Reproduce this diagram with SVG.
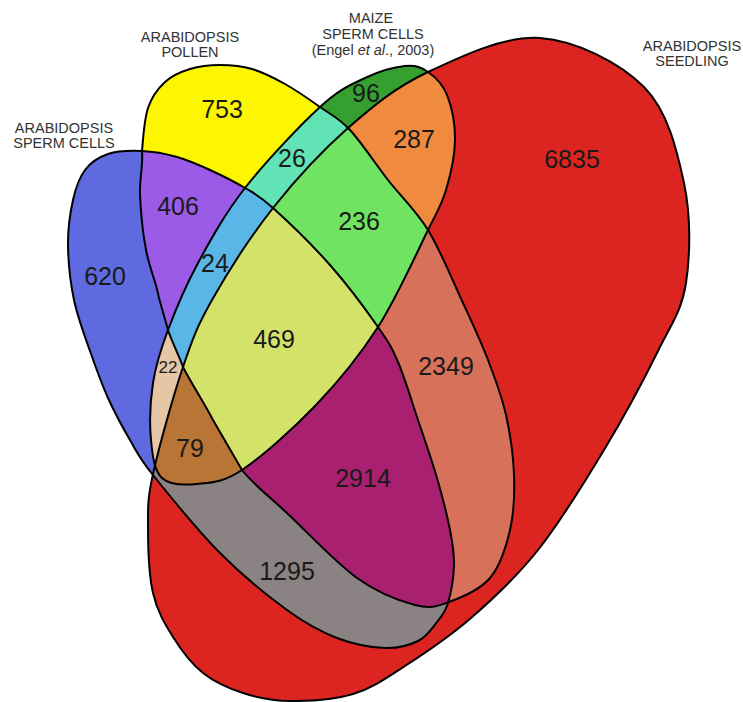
<svg xmlns="http://www.w3.org/2000/svg" xmlns:xlink="http://www.w3.org/1999/xlink" width="743" height="702" viewBox="0 0 743 702">
<style>
.num{font-family:"Liberation Sans",Arial,sans-serif;font-size:25px;fill:#1a1a1a;text-anchor:middle}
.lbl{font-family:"Liberation Sans",Arial,sans-serif;font-size:14.5px;fill:#333;text-anchor:middle}
.edge{fill:none;stroke:#000;stroke-width:2}
</style>
<defs>
<path id="A" d="M142,151 C153.5,151.5 165.7,153.8 177,157 C188.3,160.2 198.7,164.8 210,170 C221.3,175.2 234.5,181.7 245,188 C255.5,194.3 258.8,195.2 273,208 C287.2,220.8 312.5,245.2 330,265 C347.5,284.8 366.7,310.8 378,327 C389.3,343.2 391.3,346.5 398,362 C404.7,377.5 411.5,400.7 418,420 C424.5,439.3 431.7,459.7 437,478 C442.3,496.3 447.2,515.5 450,530 C452.8,544.5 454.3,552.8 454,565 C453.7,577.2 450.8,593.5 448,603 C445.2,612.5 442,615.7 437,622 C432,628.3 426.7,636.7 418,641 C409.3,645.3 398.5,648.5 385,648 C371.5,647.5 353.3,644.3 337,638 C320.7,631.7 306.5,624.2 287,610 C267.5,595.8 242.3,575.5 220,553 C197.7,530.5 168,493.8 153,475 C138,456.2 137.5,452.8 130,440 C122.5,427.2 114.7,412.8 108,398 C101.3,383.2 95.7,367.3 90,351 C84.3,334.7 77.7,317.7 74,300 C70.3,282.3 68.2,261.7 68,245 C67.8,228.3 70.2,212.5 73,200 C75.8,187.5 79.2,177.7 85,170 C90.8,162.3 98.5,157.2 108,154 C117.5,150.8 130.5,150.5 142,151 Z"/>
<path id="B" d="M142,151 C143.3,136.5 144.2,119.5 148,108 C151.8,96.5 158,88.5 165,82 C172,75.5 180.8,71.8 190,69 C199.2,66.2 209.7,65 220,65 C230.3,65 241.2,65.8 252,69 C262.8,72.2 273.7,77.7 285,84 C296.3,90.3 309.2,99.3 320,107 C330.8,114.7 338.7,117.8 350,130 C361.3,142.2 375,163.3 388,180 C401,196.7 415.5,209.5 428,230 C440.5,250.5 453,281.3 463,303 C473,324.7 480.8,341.3 488,360 C495.2,378.7 501.7,395.8 506,415 C510.3,434.2 513.3,455.8 514,475 C514.7,494.2 514,512.8 510,530 C506,547.2 500.2,566 490,578 C479.8,590 461.5,597.5 449,602 C436.5,606.5 430.3,609 415,605 C399.7,601 378.2,593.2 357,578 C335.8,562.8 307.2,532 288,514 C268.8,496 254.5,485.7 242,470 C232.2,452.8 222.8,437.2 213,420 C205.5,405 190.5,382 183,367 C179,355.5 171.7,341.3 168,330 C164.3,316.7 162.7,311.3 159,298 C155.8,281 149.2,267.2 146,250 C142.8,232.8 140.7,211.5 140,195 C139.3,178.5 143.3,165.5 142,151 Z"/>
<path id="C" d="M428,72 C435,76.8 442.5,83.7 447,95 C451.5,106.3 455.2,124.2 455,140 C454.8,155.8 450.5,175 446,190 C441.5,205 439.3,207.2 428,230 C416.7,252.8 396.7,297.8 378,327 C359.3,356.2 338.7,381.2 316,405 C293.3,428.8 261.8,456.8 242,470 C222.2,483.2 210.3,482.7 197,484 C183.7,485.3 169.7,485.3 162,478 C154.3,470.7 152.5,455.8 151,440 C149.5,424.2 150.2,401.3 153,383 C155.8,364.7 160.5,350 168,330 C175.5,310 185.2,286.7 198,263 C210.8,239.3 224.7,214 245,188 C265.3,162 300,125.3 320,107 C340,88.7 350.8,84.8 365,78 C379.2,71.2 394.5,67 405,66 C415.5,65 421,67.2 428,72 Z"/>
<path id="D" d="M428,72 C460,57 504,35.5 540,38 C576,40.5 620,62.8 644,87 C668,111.2 677,150.3 684,183 C691,215.7 690.3,255 686,283 C681.7,311 671.7,323.2 658,351 C644.3,378.8 624,416.8 604,450 C584,483.2 560.2,522 538,550 C515.8,578 493.2,598.7 471,618 C448.8,637.3 424.7,653.3 405,666 C385.3,678.7 372.2,688.2 353,694 C333.8,699.8 308.3,701.2 290,701 C271.7,700.8 257.5,697.7 243,693 C228.5,688.3 214.7,682.3 203,673 C191.3,663.7 181.3,650.3 173,637 C164.7,623.7 157.2,611.3 153,593 C148.8,574.7 148,546.8 148,527 C148,507.2 147.2,500.7 153,474 C158.8,447.3 173.2,396 183,367 C192.8,338 197,326.5 212,300 C227,273.5 250.3,236.7 273,208 C295.7,179.3 322.2,150.7 348,128 C373.8,105.3 396,87 428,72 Z"/>
<clipPath id="cA"><use href="#A"/></clipPath>
<clipPath id="cB"><use href="#B"/></clipPath>
<clipPath id="cC"><use href="#C"/></clipPath>
</defs>
<g id="fills">
<use href="#A" fill="#5f69e0"/>
<use href="#B" fill="#fcf600"/>
<use href="#C" fill="#35a030"/>
<use href="#D" fill="#dc2420"/>
<g clip-path="url(#cA)"><use href="#B" fill="#9b5be6"/></g>
<g clip-path="url(#cB)"><use href="#C" fill="#62e3b5"/></g>
<g clip-path="url(#cC)"><use href="#D" fill="#ef8a3f"/></g>
<g clip-path="url(#cA)"><use href="#C" fill="#e5c6a5"/></g>
<g clip-path="url(#cB)"><use href="#D" fill="#d8715a"/></g>
<g clip-path="url(#cA)"><use href="#D" fill="#8b8383"/></g>
<g clip-path="url(#cA)"><g clip-path="url(#cB)"><use href="#C" fill="#5ab6e6"/></g></g>
<g clip-path="url(#cB)"><g clip-path="url(#cC)"><use href="#D" fill="#70e462"/></g></g>
<g clip-path="url(#cA)"><g clip-path="url(#cC)"><use href="#D" fill="#b97535"/></g></g>
<g clip-path="url(#cA)"><g clip-path="url(#cB)"><use href="#D" fill="#a8206f"/></g></g>
<g clip-path="url(#cA)"><g clip-path="url(#cB)"><g clip-path="url(#cC)"><use href="#D" fill="#d3e36a"/></g></g></g>
</g>
<g id="outlines">
<use id="sperm-cells" href="#A" class="edge"/>
<use id="pollen" href="#B" class="edge"/>
<use id="maize" href="#C" class="edge"/>
<use id="seedling" href="#D" class="edge"/>
</g>
<g id="counts">
<text class="num" x="222" y="118">753</text>
<text class="num" x="366" y="102">96</text>
<text class="num" x="414" y="148">287</text>
<text class="num" x="292" y="167">26</text>
<text class="num" x="178" y="215">406</text>
<text class="num" x="359" y="230">236</text>
<text class="num" x="572" y="168">6835</text>
<text class="num" x="105" y="285">620</text>
<text class="num" x="215" y="272">24</text>
<text class="num" x="274" y="348">469</text>
<text class="num" x="168" y="373" style="font-size:17px">22</text>
<text class="num" x="190" y="457">79</text>
<text class="num" x="363" y="487">2914</text>
<text class="num" x="446" y="375">2349</text>
<text class="num" x="287" y="580">1295</text>
</g>
<g id="labels">
<text class="lbl" x="64" y="133">ARABIDOPSIS</text>
<text class="lbl" x="64" y="148">SPERM CELLS</text>
<text class="lbl" x="190" y="42">ARABIDOPSIS</text>
<text class="lbl" x="190" y="57">POLLEN</text>
<text class="lbl" x="371" y="23">MAIZE</text>
<text class="lbl" x="373" y="39">SPERM CELLS</text>
<text class="lbl" x="373" y="55">(Engel <tspan font-style="italic">et al</tspan>., 2003)</text>
<text class="lbl" x="692" y="51">ARABIDOPSIS</text>
<text class="lbl" x="692" y="66">SEEDLING</text>
</g>
</svg>
